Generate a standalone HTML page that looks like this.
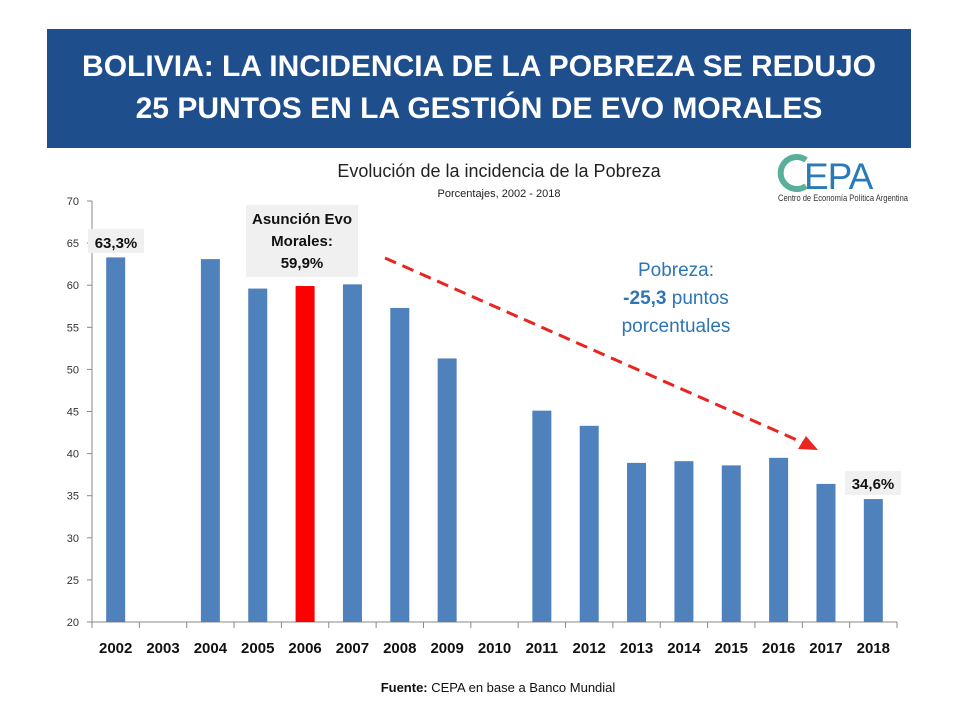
<!DOCTYPE html>
<html><head><meta charset="utf-8"><style>
body{margin:0;width:960px;height:720px;background:#fff;font-family:"Liberation Sans",sans-serif;overflow:hidden;position:relative}
#banner{position:absolute;left:47px;top:29px;width:864px;height:119px;background:#1f4e8c;color:#fff;font-weight:bold;font-size:30px;text-align:center;line-height:42px;padding-top:17px;box-sizing:border-box}
</style></head><body>
<div id="banner">BOLIVIA: LA INCIDENCIA DE LA POBREZA SE REDUJO<br>25 PUNTOS EN LA GESTIÓN DE EVO MORALES</div>
<svg id="chart" width="960" height="720" style="position:absolute;left:0;top:0">
<text x="499" y="177" text-anchor="middle" font-size="18" fill="#222">Evolución de la incidencia de la Pobreza</text>
<text x="499" y="197" text-anchor="middle" font-size="11" fill="#222">Porcentajes, 2002 - 2018</text>
<g>
<path d="M806 160 A16 16 0 1 0 806 186" fill="none" stroke="#5aaf9a" stroke-width="6"/>
<text x="804" y="189" font-size="37" fill="#2a7ab8" letter-spacing="-1">EPA</text>
<text x="778" y="201" font-size="9" fill="#333" textLength="130" lengthAdjust="spacingAndGlyphs">Centro de Economía Política Argentina</text>
</g>
<g id="axes"></g><g id="bars"></g>
<g><rect x="88" y="229" width="56" height="24" fill="#f0f0f0"/><text x="116" y="248" text-anchor="middle" font-size="15" font-weight="bold" fill="#111">63,3%</text></g>
<g><rect x="246" y="205" width="112" height="72" fill="#f0f0f0"/>
<text x="302" y="224" text-anchor="middle" font-size="15" font-weight="bold" fill="#111">Asunción Evo</text>
<text x="302" y="246" text-anchor="middle" font-size="15" font-weight="bold" fill="#111">Morales:</text>
<text x="302" y="268" text-anchor="middle" font-size="15" font-weight="bold" fill="#111">59,9%</text></g>
<g><rect x="845" y="471" width="56" height="24" fill="#f0f0f0"/><text x="873" y="489" text-anchor="middle" font-size="15" font-weight="bold" fill="#111">34,6%</text></g>
<g>
<text x="676" y="276" text-anchor="middle" font-size="19" fill="#2e75b6">Pobreza:</text>
<text x="676" y="304" text-anchor="middle" font-size="19" fill="#2e75b6"><tspan font-weight="bold">-25,3</tspan> puntos</text>
<text x="676" y="332" text-anchor="middle" font-size="19" fill="#2e75b6">porcentuales</text>
</g>
<line x1="385" y1="258" x2="806" y2="444" stroke="#e8251f" stroke-width="3" stroke-dasharray="12 7"/>
<polygon points="818,450 798,449 806,436" fill="#e8251f"/>
<text x="498" y="692" text-anchor="middle" font-size="13" fill="#111"><tspan font-weight="bold">Fuente:</tspan> CEPA en base a Banco Mundial</text>
</svg>
<script>
const years=["2002","2003","2004","2005","2006","2007","2008","2009","2010","2011","2012","2013","2014","2015","2016","2017","2018"];
const values=[63.3,null,63.1,59.6,59.9,60.1,57.3,51.3,null,45.1,43.3,38.9,39.1,38.6,39.5,36.4,34.6];
const yTicks=[20,25,30,35,40,45,50,55,60,65,70];
const highlightYear="2006";
const NS="http://www.w3.org/2000/svg";
const x0=92,x1=897,yb=622,yt=201,ymin=20,ymax=70;
const bw=(x1-x0)/years.length;
const Y=v=>yb-(v-ymin)/(ymax-ymin)*(yb-yt);
const X=i=>x0+bw*(i+0.5);
function mk(t,a,p){const e=document.createElementNS(NS,t);for(const k in a)e.setAttribute(k,a[k]);p.appendChild(e);return e;}
const ax=document.getElementById('axes'),bg=document.getElementById('bars');
let l=mk('line',{x1:x0,y1:yt,x2:x0,y2:yb,stroke:'#888'},ax);


l=mk('line',{x1:x0,y1:yb,x2:x1,y2:yb,stroke:'#888'},ax);


yTicks.forEach(v=>{
 mk('line',{x1:x0-5,y1:Y(v),x2:x0,y2:Y(v),stroke:'#888'},ax);
 const t=mk('text',{x:x0-13,y:Y(v)+4,'text-anchor':'end','font-size':11,fill:'#333'},ax);t.textContent=v;
 
 
});
years.forEach((y,i)=>{
 mk('line',{x1:x0+bw*i,y1:yb,x2:x0+bw*i,y2:yb+6,stroke:'#888'},ax);
 const t=mk('text',{x:X(i),y:653,'text-anchor':'middle','font-size':15,'font-weight':'bold',fill:'#111'},ax);t.textContent=y;
 
 
 if(values[i]!=null){
  const r=mk('rect',{x:X(i)-9.5,y:Y(values[i]),width:19,height:yb-Y(values[i]),fill:y===highlightYear?'#ff0000':'#4f81bd'},bg);
  
  
 }
});
mk('line',{x1:x1,y1:yb,x2:x1,y2:yb+6,stroke:'#888'},ax);
</script>
</body></html>
